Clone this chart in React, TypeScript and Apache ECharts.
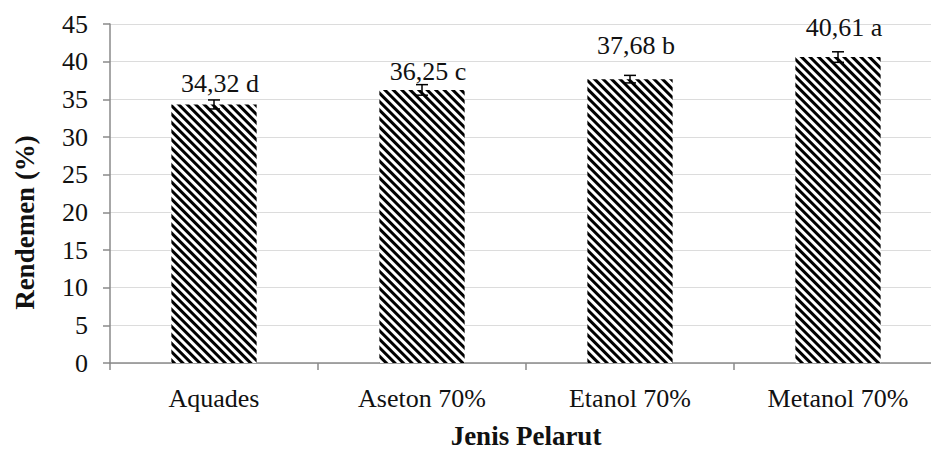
import React, { useEffect, useRef } from "react";
import * as echarts from "echarts";

const categories = ["Aquades", "Aseton 70%", "Etanol 70%", "Metanol 70%"];
const values = [34.32, 36.25, 37.68, 40.61];
const letters = ["d", "c", "b", "a"];
const errors = [0.6, 0.7, 0.5, 0.7];
const labelDistances = [8, 5, 21, 17];
const yTicks = [0, 5, 10, 15, 20, 25, 30, 35, 40, 45];

const FONT = "'Liberation Serif', 'Times New Roman', serif";

export default function App() {
  const ref = useRef<HTMLDivElement>(null);
  useEffect(() => {
    if (!ref.current) return;
    const chart = echarts.init(ref.current, null, { renderer: "svg" });
    chart.setOption({
      animation: false,
      backgroundColor: "#fff",
      textStyle: { fontFamily: FONT },
      grid: { left: 110, right: -11, top: 24, bottom: 87, containLabel: false, outerBoundsMode: "none" },
      xAxis: {
        type: "category",
        data: categories,
        name: "Jenis Pelarut",
        nameLocation: "middle",
        nameGap: 60,
        nameTextStyle: { fontFamily: FONT, fontSize: 27, lineHeight: 26, fontWeight: "bold", color: "#111" },
        axisLine: { lineStyle: { color: "#8a8a8a", width: 1.5 } },
        axisTick: { show: true, length: 7, alignWithLabel: false, lineStyle: { color: "#8a8a8a", width: 1.5 } },
        axisLabel: { fontFamily: FONT, fontSize: 26, color: "#111", margin: 22 },
      },
      yAxis: {
        type: "value",
        min: yTicks[0],
        max: yTicks[yTicks.length - 1],
        interval: 5,
        name: "Rendemen (%)",
        nameLocation: "middle",
        nameGap: 72,
        nameRotate: 90,
        nameTextStyle: { fontFamily: FONT, fontSize: 27, fontWeight: "bold", color: "#111", padding: [0, 58, 0, 0] },
        axisLine: { show: true, lineStyle: { color: "#8a8a8a", width: 1.5 } },
        axisTick: { show: true, length: 7, lineStyle: { color: "#8a8a8a", width: 1.5 } },
        axisLabel: { fontFamily: FONT, fontSize: 26, color: "#111", margin: 22 },
        splitLine: { show: true, lineStyle: { color: "#dcdcdc", width: 1.2 } },
      },
      series: [
        {
          type: "bar",
          barWidth: "41%",
          data: values.map((v, i) => ({
            value: v,
            label: {
              show: true,
              position: "top",
              distance: labelDistances[i],
              offset: [6, 0],
              formatter: () => `${v.toFixed(2).replace(".", ",")} ${letters[i]}`,
              fontFamily: FONT,
              fontSize: 26,
              color: "#111",
            },
          })),
          itemStyle: {
            color: "#fff",
            decal: {
              symbol: "rect",
              symbolSize: 1,
              dashArrayX: [1, 0],
              dashArrayY: [2.4, 2.2],
              rotation: Math.PI / 4,
              color: "#000",
            },
          },
          z: 2,
        },
        {
          type: "custom",
          data: values.map((v, i) => [i, v, errors[i]]),
          z: 5,
          renderItem: (params: any, api: any) => {
            const x = api.value(0);
            const v = api.value(1);
            const e = api.value(2);
            const top = api.coord([x, v + e]);
            const bot = api.coord([x, v - e]);
            const hw = 6;
            const style = { stroke: "#000", lineWidth: 1.5 };
            return {
              type: "group",
              children: [
                { type: "line", shape: { x1: top[0], y1: top[1], x2: bot[0], y2: bot[1] }, style },
                { type: "line", shape: { x1: top[0] - hw, y1: top[1], x2: top[0] + hw, y2: top[1] }, style },
                { type: "line", shape: { x1: bot[0] - hw, y1: bot[1], x2: bot[0] + hw, y2: bot[1] }, style },
              ],
            };
          },
        },
      ],
    });
    return () => chart.dispose();
  }, []);
  return <div ref={ref} style={{ width: 931, height: 450, position: "absolute", left: 0, top: 0 }} />;
}
